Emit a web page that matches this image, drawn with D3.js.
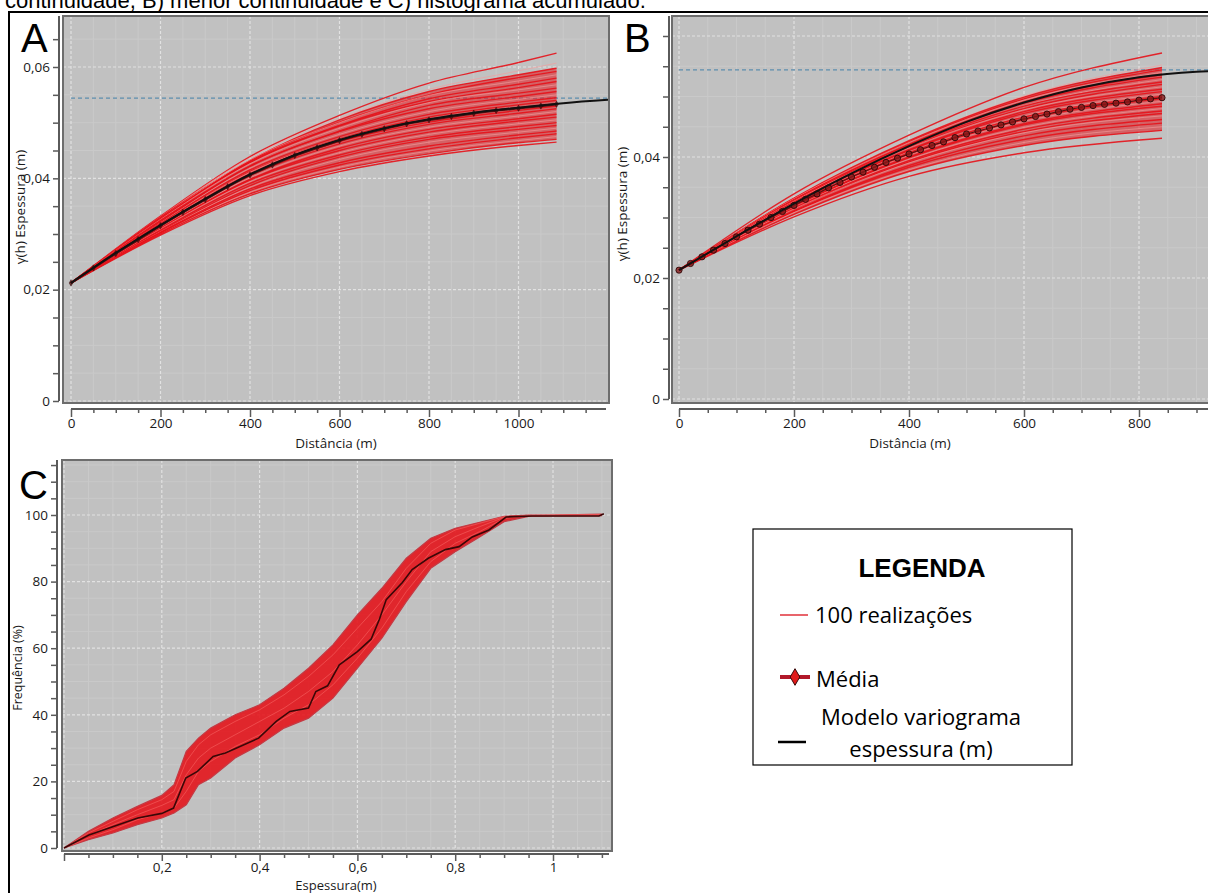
<!DOCTYPE html>
<html>
<head>
<meta charset="utf-8">
<script src="https://cdn.jsdelivr.net/npm/d3@7"></script>
<style>
  body { margin: 0; background: #fff; }
  svg { display: block; }
</style>
</head>
<body>
<svg id="fig" width="1208" height="893"></svg>
<script>
// ---------- Painel A: variograma, maior continuidade
const distA = [0, 200, 400, 600, 800, 1000, 1085];
const realizacoesA = [
    [0.0212, 0.0332, 0.0439, 0.0513, 0.0571, 0.0608, 0.0625],
    [0.0212, 0.0331, 0.0437, 0.0508, 0.0560, 0.0593, 0.0607],
    [0.0212, 0.0328, 0.0432, 0.0505, 0.0556, 0.0586, 0.0598],
    [0.0212, 0.0330, 0.0432, 0.0501, 0.0550, 0.0581, 0.0592],
    [0.0212, 0.0328, 0.0433, 0.0500, 0.0549, 0.0575, 0.0586],
    [0.0212, 0.0326, 0.0429, 0.0495, 0.0543, 0.0569, 0.0580],
    [0.0212, 0.0328, 0.0429, 0.0494, 0.0538, 0.0563, 0.0574],
    [0.0212, 0.0326, 0.0426, 0.0490, 0.0536, 0.0559, 0.0568],
    [0.0212, 0.0324, 0.0422, 0.0485, 0.0531, 0.0553, 0.0562],
    [0.0212, 0.0322, 0.0422, 0.0484, 0.0525, 0.0547, 0.0556],
    [0.0212, 0.0320, 0.0418, 0.0479, 0.0520, 0.0542, 0.0550],
    [0.0212, 0.0319, 0.0415, 0.0475, 0.0515, 0.0537, 0.0545],
    [0.0212, 0.0317, 0.0412, 0.0471, 0.0510, 0.0532, 0.0540],
    [0.0212, 0.0317, 0.0411, 0.0470, 0.0506, 0.0527, 0.0535],
    [0.0212, 0.0315, 0.0408, 0.0466, 0.0501, 0.0522, 0.0530],
    [0.0212, 0.0314, 0.0405, 0.0462, 0.0497, 0.0517, 0.0525],
    [0.0212, 0.0312, 0.0401, 0.0458, 0.0492, 0.0512, 0.0520],
    [0.0212, 0.0310, 0.0398, 0.0454, 0.0488, 0.0507, 0.0515],
    [0.0212, 0.0310, 0.0397, 0.0450, 0.0483, 0.0503, 0.0510],
    [0.0212, 0.0309, 0.0394, 0.0446, 0.0479, 0.0498, 0.0505],
    [0.0212, 0.0307, 0.0391, 0.0442, 0.0474, 0.0493, 0.0500],
    [0.0212, 0.0305, 0.0387, 0.0438, 0.0470, 0.0488, 0.0495],
    [0.0212, 0.0304, 0.0384, 0.0434, 0.0465, 0.0483, 0.0490],
    [0.0212, 0.0303, 0.0381, 0.0428, 0.0458, 0.0478, 0.0485],
    [0.0212, 0.0302, 0.0378, 0.0424, 0.0453, 0.0473, 0.0480],
    [0.0212, 0.0300, 0.0375, 0.0420, 0.0449, 0.0468, 0.0475],
    [0.0212, 0.0300, 0.0372, 0.0416, 0.0444, 0.0464, 0.0470],
    [0.0212, 0.0298, 0.0369, 0.0412, 0.0440, 0.0459, 0.0465]
];
const distModeloA = [0, 100, 200, 300, 400, 500, 600, 700, 800, 900, 1000, 1100, 1200];
const modeloA = [0.0212, 0.0266, 0.0316, 0.0363, 0.0407, 0.0442, 0.0469, 0.0490, 0.0506, 0.0518, 0.0527, 0.0535, 0.0541];
const distMediaA = [0, 50, 100, 150, 200, 250, 300, 350, 400, 450, 500, 550, 600, 650, 700, 750, 800, 850, 900, 950, 1000, 1050, 1085];
const mediaA = [0.0212, 0.0239, 0.0265, 0.0290, 0.0315, 0.0339, 0.0362, 0.0385, 0.0406, 0.0424, 0.0441, 0.0455, 0.0468, 0.0479, 0.0489, 0.0498, 0.0505, 0.0511, 0.0517, 0.0522, 0.0526, 0.0530, 0.0533];
const patamarA = 0.0544;

// ---------- Painel B: variograma, menor continuidade
const distB = [0, 200, 400, 600, 840];
const realizacoesB = [
    [0.0213, 0.0339, 0.0436, 0.0515, 0.0572],
    [0.0213, 0.0332, 0.0427, 0.0501, 0.0552],
    [0.0213, 0.0332, 0.0427, 0.0499, 0.0548],
    [0.0213, 0.0331, 0.0425, 0.0496, 0.0544],
    [0.0213, 0.0331, 0.0424, 0.0494, 0.0540],
    [0.0213, 0.0329, 0.0421, 0.0491, 0.0536],
    [0.0213, 0.0329, 0.0420, 0.0489, 0.0532],
    [0.0213, 0.0328, 0.0418, 0.0485, 0.0528],
    [0.0213, 0.0328, 0.0418, 0.0484, 0.0524],
    [0.0213, 0.0327, 0.0416, 0.0480, 0.0520],
    [0.0213, 0.0327, 0.0415, 0.0478, 0.0516],
    [0.0213, 0.0325, 0.0412, 0.0475, 0.0512],
    [0.0213, 0.0325, 0.0411, 0.0472, 0.0508],
    [0.0213, 0.0324, 0.0408, 0.0468, 0.0504],
    [0.0213, 0.0322, 0.0407, 0.0466, 0.0500],
    [0.0213, 0.0321, 0.0404, 0.0462, 0.0496],
    [0.0213, 0.0320, 0.0403, 0.0459, 0.0492],
    [0.0213, 0.0319, 0.0400, 0.0455, 0.0488],
    [0.0213, 0.0319, 0.0399, 0.0453, 0.0484],
    [0.0213, 0.0317, 0.0396, 0.0449, 0.0480],
    [0.0213, 0.0316, 0.0394, 0.0446, 0.0476],
    [0.0213, 0.0314, 0.0392, 0.0442, 0.0472],
    [0.0213, 0.0314, 0.0390, 0.0440, 0.0468],
    [0.0213, 0.0311, 0.0386, 0.0435, 0.0462],
    [0.0213, 0.0310, 0.0383, 0.0429, 0.0456],
    [0.0213, 0.0308, 0.0379, 0.0424, 0.0450],
    [0.0213, 0.0305, 0.0376, 0.0419, 0.0444],
    [0.0213, 0.0301, 0.0368, 0.0407, 0.0431]
];
const distModeloB = [0, 100, 200, 300, 400, 500, 600, 700, 800, 900, 960];
const modeloB = [0.0213, 0.0269, 0.0323, 0.0373, 0.0418, 0.0458, 0.0490, 0.0515, 0.0532, 0.0541, 0.0543];
const distMediaB = d3.range(0, 841, 20);
const mediaB = [0.0213, 0.0224, 0.0235, 0.0246, 0.0257, 0.0268, 0.0279, 0.0289, 0.0300, 0.0310,
    0.0320, 0.0330, 0.0339, 0.0349, 0.0358, 0.0367, 0.0375, 0.0383, 0.0391, 0.0398,
    0.0405, 0.0412, 0.0419, 0.0425, 0.0432, 0.0438, 0.0443, 0.0448, 0.0453, 0.0458,
    0.0463, 0.0467, 0.0471, 0.0475, 0.0479, 0.0482, 0.0485, 0.0487, 0.0489, 0.0491,
    0.0494, 0.0496, 0.0498];
const patamarB = 0.0544;

// ---------- Painel C: histograma acumulado
const espC = [0, 0.05, 0.1, 0.15, 0.2, 0.225, 0.25, 0.275, 0.3, 0.35, 0.4, 0.45, 0.5, 0.55, 0.6, 0.65, 0.7, 0.75, 0.8, 0.85, 0.9, 0.95, 1.0, 1.1];
const envSupC = [0, 5, 9, 12.5, 15.8, 19, 29, 33, 36, 40, 43, 48, 54, 61, 70, 78, 87, 93, 96, 97.8, 99.6, 100, 100, 100.3];
const envInfC = [0, 2.5, 4.5, 7, 9, 10.5, 13, 19, 21, 27, 31, 36, 39, 45, 54, 63, 74, 84, 89, 93.4, 98, 99.6, 99.7, 99.8];
const realizacoesC = [
    [0, 4.5, 8, 11.5, 14.5, 17, 26, 31, 34, 38, 41.5, 46, 51.5, 58, 66, 74, 84, 91.5, 95.5, 97.5, 99.5, 99.9, 100, 100.1],
    [0, 3.8, 7, 10, 12.8, 14.5, 22, 27, 30, 34, 38, 42, 47, 53, 61, 70, 80, 89, 93.5, 96.5, 99.3, 99.8, 99.9, 100],
    [0, 3, 5.5, 8.5, 10.5, 12, 17, 23, 26, 30.5, 34, 39, 43, 49, 57, 66, 77, 86, 91.5, 95, 99, 99.7, 99.8, 99.9]
];
const espRefC = [0, 0.051, 0.104, 0.151, 0.2, 0.224, 0.249, 0.273, 0.305, 0.33, 0.353, 0.398, 0.434, 0.462, 0.5, 0.515,
    0.539, 0.563, 0.6, 0.628, 0.645, 0.659, 0.692, 0.712, 0.745, 0.78, 0.808, 0.835, 0.869, 0.904, 0.957, 1.094, 1.104];
const freqRefC = [0, 3.9, 6.6, 9, 10.4, 12, 21, 23, 27.5, 28.5, 30, 33, 38, 41, 42, 47,
    48.7, 55, 59, 62.7, 68.7, 74.6, 79.7, 83.6, 87, 89.6, 90.5, 93.4, 95.5, 99.4, 99.7, 99.7, 100.4];

const legendaItens = ["100 realizações", "Média", "Modelo variograma", "espessura (m)"];

// ---------- layout
const FONT = "'Open Sans', 'Noto Sans', sans-serif";
const svg = d3.select("#fig");
const virgula = d => d === 0 ? "0" : String(+d.toFixed(3)).replace(".", ",");
const multiplo = (d, p) => Math.abs(d / p - Math.round(d / p)) < 1e-6;

svg.append("text")
    .attr("x", 5).attr("y", 8)
    .attr("font-family", "'Liberation Sans', Arial, sans-serif")
    .attr("font-size", 22)
    .text("continuidade, B) menor continuidade e C) histograma acumulado.");

function quadro(id, o) {
    const g = svg.append("g");
    const b = o.box;
    g.append("clipPath").attr("id", id).append("rect")
        .attr("x", b.x0).attr("y", b.y0).attr("width", b.x1 - b.x0).attr("height", b.y1 - b.y0);
    g.append("rect")
        .attr("x", b.x0).attr("y", b.y0).attr("width", b.x1 - b.x0).attr("height", b.y1 - b.y0)
        .attr("fill", "#c1c1c1");

    const grid = g.append("g").attr("clip-path", `url(#${id})`);
    grid.selectAll(".vmin").data(o.xMinor.filter(d => !multiplo(d, o.xStep))).join("line")
        .attr("x1", d => o.x(d)).attr("x2", d => o.x(d)).attr("y1", b.y0).attr("y2", b.y1)
        .attr("stroke", "#c9c9c9").attr("stroke-width", 1);
    grid.selectAll(".hmin").data(o.yMinor.filter(d => !multiplo(d, o.yStep))).join("line")
        .attr("y1", d => o.y(d)).attr("y2", d => o.y(d)).attr("x1", b.x0).attr("x2", b.x1)
        .attr("stroke", "#c9c9c9").attr("stroke-width", 1);
    grid.selectAll(".vmaj").data(o.xMinor.filter(d => multiplo(d, o.xStep))).join("line")
        .attr("x1", d => o.x(d)).attr("x2", d => o.x(d)).attr("y1", b.y0).attr("y2", b.y1)
        .attr("stroke", "#e2e2e2").attr("stroke-width", 1.2).attr("stroke-dasharray", "3,2");
    grid.selectAll(".hmaj").data(o.yMinor.filter(d => multiplo(d, o.yStep))).join("line")
        .attr("y1", d => o.y(d)).attr("y2", d => o.y(d)).attr("x1", b.x0).attr("x2", b.x1)
        .attr("stroke", "#e2e2e2").attr("stroke-width", 1.2).attr("stroke-dasharray", "3,2");

    const plot = g.append("g").attr("clip-path", `url(#${id})`);

    // eixos
    const eixoY = g.append("g")
        .attr("transform", `translate(${o.axisX},0)`)
        .call(d3.axisLeft(o.y).tickValues(o.yMinor).tickSize(6).tickSizeOuter(0)
            .tickFormat(d => multiplo(d, o.yStep) && !o.yHide.includes(d) ? o.fmtY(d) : ""));
    eixoY.select(".domain").remove();
    eixoY.selectAll("line").attr("stroke", "#5a5a5a").attr("stroke-width", 1.5);
    eixoY.selectAll("text").attr("font-family", FONT).attr("font-size", 13.5).attr("fill", "#1a1a1a");
    g.append("line").attr("x1", o.axisX).attr("x2", o.axisX)
        .attr("y1", o.y(o.yMinor[0])).attr("y2", b.y0)
        .attr("stroke", "#5a5a5a").attr("stroke-width", 2);

    const eixoXmin = g.append("g")
        .attr("transform", `translate(0,${o.axisY})`)
        .call(d3.axisBottom(o.x).tickValues(o.xMinor.filter(d => !multiplo(d, o.xStep))).tickSize(4).tickFormat(""));
    eixoXmin.select(".domain").remove();
    eixoXmin.selectAll("line").attr("stroke", "#5a5a5a").attr("stroke-width", 1.5);
    const eixoX = g.append("g")
        .attr("transform", `translate(0,${o.axisY})`)
        .call(d3.axisBottom(o.x).tickValues(o.xMinor.filter(d => multiplo(d, o.xStep))).tickSize(o.xTick || 8).tickPadding(1)
            .tickFormat(d => o.xHide.includes(d) ? "" : o.fmtX(d)));
    eixoX.select(".domain").remove();
    eixoX.selectAll("line").attr("stroke", "#5a5a5a").attr("stroke-width", 1.5);
    eixoX.selectAll("text").attr("font-family", FONT).attr("font-size", 13.5).attr("fill", "#1a1a1a");
    g.append("line").attr("y1", o.axisY).attr("y2", o.axisY)
        .attr("x1", o.x(o.xMinor[0])).attr("x2", b.x1 - 3)
        .attr("stroke", "#5a5a5a").attr("stroke-width", 2);

    // titulos
    g.append("text")
        .attr("x", o.xTitle[0]).attr("y", o.xTitle[1])
        .attr("text-anchor", "middle").attr("font-family", FONT).attr("font-size", o.xTitleSize || 13.5)
        .attr("fill", "#1a1a1a").text(o.xLabel);
    g.append("text")
        .attr("transform", `translate(${o.yTitle[0]},${o.yTitle[1]}) rotate(-90)`)
        .attr("text-anchor", "middle").attr("font-family", FONT).attr("font-size", o.yTitleSize || 13.5)
        .attr("fill", "#1a1a1a").text(o.yLabel);
    g.append("text")
        .attr("x", o.letra[0]).attr("y", o.letra[1])
        .attr("font-family", "'Liberation Sans', Arial, sans-serif").attr("font-size", 40)
        .attr("fill", "#000").text(o.letraTxt);

    const borda = () => g.append("rect")
        .attr("x", b.x0).attr("y", b.y0).attr("width", b.x1 - b.x0).attr("height", b.y1 - b.y0)
        .attr("fill", "none").attr("stroke", "#6d6d6d").attr("stroke-width", 2);
    return {plot, borda};
}

// moldura da figura
svg.append("rect").attr("x", 9).attr("y", 12).attr("width", 1220).attr("height", 900)
    .attr("fill", "none").attr("stroke", "#000").attr("stroke-width", 2);

function variograma(p, x, y, dist, reals, distMod, mod, distMed, med, patamar, marcador) {
    p.plot.append("line")
        .attr("x1", x(0)).attr("x2", x(2000)).attr("y1", y(patamar)).attr("y2", y(patamar))
        .attr("stroke", "#5d8eae").attr("stroke-width", 1.4).attr("stroke-dasharray", "4,3");
    const linha = d3.line().x((d, i) => x(dist[i])).y(d => y(d)).curve(d3.curveMonotoneX);
    // faixa interna densa das realizacoes
    const sup = reals[2], inf = reals[reals.length - 2];
    p.plot.append("path")
        .attr("d", d3.area().x((d, i) => x(dist[i])).y0((d, i) => y(inf[i])).y1(d => y(d)).curve(d3.curveMonotoneX)(sup))
        .attr("fill", "#e1141b").attr("fill-opacity", 0.55);
    p.plot.append("g").selectAll("path").data(reals).join("path")
        .attr("d", linha)
        .attr("fill", "none")
        .attr("stroke", (d, i) => i % 3 === 1 ? "#f59a9a" : "#e5121a")
        .attr("stroke-opacity", (d, i) => i % 3 === 1 ? 0.7 : 0.9)
        .attr("stroke-width", (d, i) => i % 3 === 1 ? 0.9 : 1.4);
    p.plot.append("path")
        .attr("d", d3.line().x((d, i) => x(distMed[i])).y(d => y(d)).curve(d3.curveMonotoneX)(med))
        .attr("fill", "none").attr("stroke", "#5e1010").attr("stroke-width", marcador.linha);
    p.plot.append("g").selectAll("path").data(med).join("path")
        .attr("transform", (d, i) => `translate(${x(distMed[i])},${y(d)})`)
        .attr("d", d3.symbol(marcador.tipo, marcador.size))
        .attr("fill", marcador.fill).attr("fill-opacity", 0.8)
        .attr("stroke", "#2e0808").attr("stroke-width", marcador.borda);
    p.plot.append("path")
        .attr("d", d3.line().x((d, i) => x(distMod[i])).y(d => y(d)).curve(d3.curveMonotoneX)(mod))
        .attr("fill", "none").attr("stroke", "#111").attr("stroke-width", 2);
    p.borda();
}

// ---------- A
const xA = d3.scaleLinear([0, 1000], [71, 518.5]);
const yA = d3.scaleLinear([0, 0.06], [401, 67]);
const pA = quadro("clipA", {
    box: {x0: 63, x1: 609, y0: 16, y1: 403},
    x: xA, y: yA,
    xMinor: d3.range(0, 1181, 50), xStep: 200, xHide: [],
    yMinor: d3.range(0, 0.0651, 0.005).map(d => +d.toFixed(3)), yStep: 0.02, yHide: [],
    axisX: 59, axisY: 409,
    fmtX: d => String(d), fmtY: virgula,
    xTitle: [336, 448], xLabel: "Distância (m)",
    yTitle: [25, 207], yLabel: "γ(h) Espessura (m)",
    letra: [21, 52], letraTxt: "A"
});
variograma(pA, xA, yA, distA, realizacoesA, distModeloA, modeloA, distMediaA, mediaA, patamarA,
    {tipo: d3.symbolDiamond, size: 12, fill: "#4a0d0d", borda: 0.4, linha: 2.5});

// ---------- B
const xB = d3.scaleLinear([0, 800], [679, 1139]);
const yB = d3.scaleLinear([0, 0.04], [399, 157]);
const pB = quadro("clipB", {
    box: {x0: 672, x1: 1215, y0: 16, y1: 403},
    x: xB, y: yB,
    xMinor: d3.range(0, 951, 50), xStep: 200, xHide: [],
    yMinor: d3.range(0, 0.0601, 0.005).map(d => +d.toFixed(3)), yStep: 0.02, yHide: [0.06],
    axisX: 669, axisY: 409,
    fmtX: d => String(d), fmtY: virgula,
    xTitle: [910, 448], xLabel: "Distância (m)",
    yTitle: [627, 204], yLabel: "γ(h) Espessura (m)",
    letra: [624, 52], letraTxt: "B"
});
variograma(pB, xB, yB, distB, realizacoesB, distModeloB, modeloB, distMediaB, mediaB, patamarB,
    {tipo: d3.symbolCircle, size: 30, fill: "#861818", borda: 0.9, linha: 1.2});

// ---------- C
const xC = d3.scaleLinear([0, 1], [64, 553]);
const yC = d3.scaleLinear([0, 100], [848, 515]);
const pC = quadro("clipC", {
    box: {x0: 62, x1: 612, y0: 460, y1: 851},
    x: xC, y: yC,
    xMinor: d3.range(0, 1.101, 0.05).map(d => +d.toFixed(2)), xStep: 0.2, xHide: [0], xTick: 7,
    yMinor: d3.range(0, 116, 5), yStep: 20, yHide: [],
    axisX: 57, axisY: 854,
    fmtX: virgula, fmtY: d => String(d),
    xTitle: [336, 890], xLabel: "Espessura(m)", xTitleSize: 13,
    yTitle: [22, 668], yLabel: "Frequência (%)", yTitleSize: 12.5,
    letra: [19, 499], letraTxt: "C"
});
pC.plot.append("path")
    .attr("d", d3.area().x((d, i) => xC(espC[i])).y0((d, i) => yC(envInfC[i])).y1(d => yC(d))(envSupC))
    .attr("fill", "#e3151c").attr("fill-opacity", 0.9);
pC.plot.append("g").selectAll("path").data([envSupC, envInfC]).join("path")
    .attr("d", d3.line().x((d, i) => xC(espC[i])).y(d => yC(d)))
    .attr("fill", "none").attr("stroke", "#c43a44").attr("stroke-width", 1.2);
pC.plot.append("g").selectAll("path").data(realizacoesC).join("path")
    .attr("d", d3.line().x((d, i) => xC(espC[i])).y(d => yC(d)))
    .attr("fill", "none").attr("stroke", "#f35a5a").attr("stroke-opacity", 0.7).attr("stroke-width", 1);
pC.plot.append("path")
    .attr("d", d3.line().x((d, i) => xC(espRefC[i])).y(d => yC(d))(freqRefC))
    .attr("fill", "none").attr("stroke", "#3a0707").attr("stroke-width", 1.6);
pC.borda();

// ---------- Legenda
const leg = svg.append("g");
leg.append("rect").attr("x", 753).attr("y", 529).attr("width", 319).attr("height", 236)
    .attr("fill", "#fff").attr("stroke", "#000").attr("stroke-width", 1.2);
leg.append("text").attr("x", 922).attr("y", 577).attr("text-anchor", "middle")
    .attr("font-family", "'Liberation Sans', Arial, sans-serif").attr("font-weight", "bold").attr("font-size", 26)
    .text("LEGENDA");
leg.append("line").attr("x1", 780).attr("x2", 808).attr("y1", 615).attr("y2", 615)
    .attr("stroke", "#e0303a").attr("stroke-width", 1.5);
leg.append("text").attr("x", 815).attr("y", 623).attr("font-family", FONT).attr("font-size", 22)
    .text(legendaItens[0]);
leg.append("line").attr("x1", 780).attr("x2", 810).attr("y1", 677).attr("y2", 677)
    .attr("stroke", "#b2192a").attr("stroke-width", 4);
leg.append("path").attr("transform", "translate(795,677)")
    .attr("d", d3.symbol(d3.symbolDiamond, 80))
    .attr("fill", "#e01a1a").attr("stroke", "#3b0a0a").attr("stroke-width", 1);
leg.append("text").attr("x", 816).attr("y", 687).attr("font-family", FONT).attr("font-size", 22)
    .text(legendaItens[1]);
leg.append("line").attr("x1", 778).attr("x2", 806).attr("y1", 742).attr("y2", 742)
    .attr("stroke", "#000").attr("stroke-width", 2.5);
leg.append("text").attr("x", 921).attr("y", 725).attr("text-anchor", "middle").attr("font-family", FONT).attr("font-size", 22)
    .text(legendaItens[2]);
leg.append("text").attr("x", 921).attr("y", 757).attr("text-anchor", "middle").attr("font-family", FONT).attr("font-size", 22)
    .text(legendaItens[3]);
</script>
</body>
</html>
